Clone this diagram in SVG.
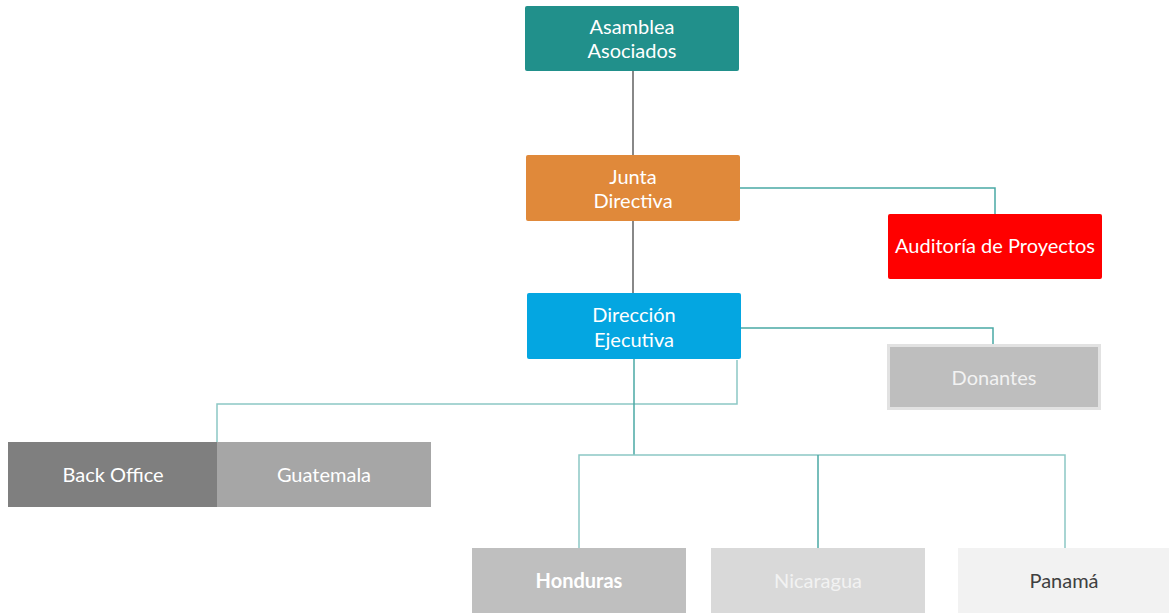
<svg xmlns="http://www.w3.org/2000/svg" width="1169" height="613" viewBox="0 0 1169 613">
<style>
text{font-family:Lato,"Open Sans","Liberation Sans",sans-serif;font-size:20px;text-anchor:middle;fill:#ffffff}
text.lt{fill:#f2f2f2}
text.dk{fill:#404040}
text.b{font-weight:bold}
.c{fill:none;stroke:#4aa9a5;stroke-width:1.5}
.g{fill:none;stroke:#606060;stroke-width:1.5}
.l{fill:none;stroke:#8cc8c5;stroke-width:1.5}
</style>
<rect width="1169" height="613" fill="#ffffff"/>
<g id="connectors">
<path class="g" d="M633 71V155"/>
<path class="g" d="M633 221V293"/>
<path class="c" d="M740 188H995V214"/>
<path class="c" d="M741 328H993V344"/>
<path class="l" d="M737 360V404H217V442"/>
<path class="c" d="M634 359V455"/>
<path class="l" d="M579 548V455H1065V548"/>
<path class="c" d="M818 455V548"/>
</g>
<g id="asamblea"><rect x="525" y="6" width="214" height="65" rx="2" fill="#21908b"/><text x="632" y="34">Asamblea</text><text x="632" y="58">Asociados</text></g>
<g id="junta"><rect x="526" y="155" width="214" height="66" rx="2" fill="#e0893a"/><text x="633" y="184">Junta</text><text x="633" y="208">Directiva</text></g>
<g id="auditoria"><rect x="888" y="214" width="214" height="65" rx="2" fill="#ff0000"/><text x="995" y="253">Auditoría de Proyectos</text></g>
<g id="direccion"><rect x="527" y="293" width="214" height="66" rx="2" fill="#04a6e1"/><text x="634" y="322">Dirección</text><text x="634" y="347">Ejecutiva</text></g>
<g id="donantes"><rect x="888.5" y="345.5" width="211" height="63" fill="#bebebe" stroke="#e2e2e2" stroke-width="3"/><text class="lt" x="994" y="385">Donantes</text></g>
<g id="backoffice"><rect x="8" y="442" width="209" height="65" fill="#7f7f7f"/><text x="113" y="482">Back Office</text></g>
<g id="guatemala"><rect x="217" y="442" width="214" height="65" fill="#a6a6a6"/><text x="324" y="482">Guatemala</text></g>
<g id="honduras"><rect x="472" y="548" width="214" height="65" fill="#bfbfbf"/><text class="b" x="579" y="588">Honduras</text></g>
<g id="nicaragua"><rect x="711" y="548" width="214" height="65" fill="#d9d9d9"/><text class="lt" x="818" y="588">Nicaragua</text></g>
<g id="panama"><rect x="958" y="548" width="211" height="65" fill="#f2f2f2"/><text class="dk" x="1064" y="588">Panamá</text></g>
</svg>
